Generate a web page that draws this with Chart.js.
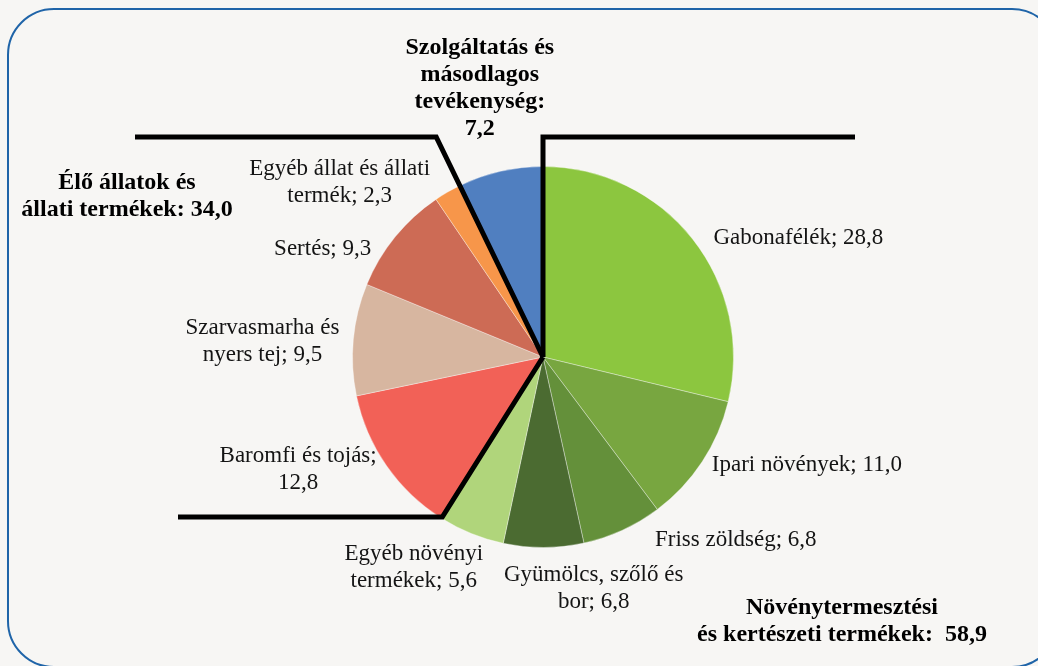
<!DOCTYPE html>
<html lang="hu">
<head>
<meta charset="utf-8">
<title>Mezőgazdasági kibocsátás szerkezete</title>
<script src="https://cdn.jsdelivr.net/npm/chart.js@4.4.1/dist/chart.umd.min.js"></script>
<style>
    html, body { margin: 0; padding: 0; background: #f7f6f4; }
    #wrap { width: 1038px; height: 666px; overflow: hidden; }
</style>
</head>
<body>
<div id="wrap"><canvas id="pieChart" width="1038" height="666"></canvas></div>
<script>
const categories = [
    "Gabonafélék",
    "Ipari növények",
    "Friss zöldség",
    "Gyümölcs, szőlő és bor",
    "Egyéb növényi termékek",
    "Baromfi és tojás",
    "Szarvasmarha és nyers tej",
    "Sertés",
    "Egyéb állat és állati termék",
    "Szolgáltatás és másodlagos tevékenység"
]
const shares = [28.8, 11.0, 6.8, 6.8, 5.6, 12.8, 9.5, 9.3, 2.3, 7.2]
const sliceColors = [
    "#8cc63f", "#78a640", "#64903a", "#4b6b31", "#b0d57b",
    "#f26157", "#d7b6a0", "#cd6b55", "#f7964a", "#507fc0"
]
const groupNames = ["Élő állatok és\nállati termékek", "Növénytermesztési\nés kertészeti termékek"]
const groupTotals = [34.0, 58.9]

const serif = "'Liberation Serif', 'DejaVu Serif', serif"

function formatHu(value) {
    return value.toFixed(1).replace(".", ",")
}

function wrapText(ctx, text, maxWidth) {
    const words = text.split(" ")
    const lines = []
    let current = ""
    words.forEach((word) => {
        const test = current ? current + " " + word : word
        if (current && ctx.measureText(test).width > maxWidth) {
            lines.push(current)
            current = word
        } else {
            current = test
        }
    })
    if (current) lines.push(current)
    return lines
}

function drawLines(ctx, lines, x, y, lineHeight) {
    lines.forEach((line, k) => {
        ctx.fillText(line, x, y + (k - (lines.length - 1) / 2) * lineHeight)
    })
}

const framePlugin = {
    id: "frame",
    beforeDraw(chart) {
        const ctx = chart.ctx
        ctx.save()
        ctx.fillStyle = "#f7f6f4"
        ctx.fillRect(0, 0, chart.width, chart.height)
        ctx.beginPath()
        ctx.roundRect(8, 9, 1050, 658, 46)
        ctx.strokeStyle = "#1f64a8"
        ctx.lineWidth = 2
        ctx.stroke()
        ctx.restore()
    }
}

// thick black separators between the three product groups
const groupLinesPlugin = {
    id: "groupLines",
    afterDatasetsDraw(chart, args, opts) {
        const arcs = chart.getDatasetMeta(0).data
        const cx = arcs[0].x
        const cy = arcs[0].y
        const ctx = chart.ctx
        ctx.save()
        ctx.strokeStyle = "#000"
        ctx.lineWidth = 5
        ctx.lineJoin = "miter"
        opts.lines.forEach((line) => {
            const angle = arcs[line.slice].startAngle
            const t = (line.y - cy) / Math.sin(angle)
            ctx.beginPath()
            ctx.moveTo(cx, cy)
            ctx.lineTo(cx + t * Math.cos(angle), line.y)
            ctx.lineTo(line.toX, line.y)
            ctx.stroke()
        })
        ctx.restore()
    }
}

const sliceLabelsPlugin = {
    id: "sliceLabels",
    afterDraw(chart, args, opts) {
        const arcs = chart.getDatasetMeta(0).data
        const ctx = chart.ctx
        ctx.save()
        ctx.textAlign = "center"
        ctx.textBaseline = "middle"
        arcs.forEach((arc, i) => {
            const item = opts.items[i]
            const mid = (arc.startAngle + arc.endAngle) / 2
            const r = arc.outerRadius + opts.gap
            const x = arc.x + r * Math.cos(mid) + item.dx
            const y = arc.y + r * Math.sin(mid) + item.dy
            ctx.font = item.bold ? opts.boldFont : opts.font
            ctx.fillStyle = item.bold ? "#000" : "#141414"
            const text = categories[i] + (item.sep || "; ") + formatHu(shares[i])
            drawLines(ctx, wrapText(ctx, text, item.wrap), x, y, opts.lineHeight)
        })

        ctx.font = opts.boldFont
        ctx.fillStyle = "#000"
        opts.groups.forEach((group, g) => {
            const lines = (groupNames[g] + group.sep + formatHu(groupTotals[g])).split("\n")
            drawLines(ctx, lines, group.x, group.y, opts.lineHeight)
        })
        ctx.restore()
    }
}

new Chart(document.getElementById("pieChart"), {
    type: "pie",
    data: {
        labels: categories,
        datasets: [{
            data: shares,
            backgroundColor: sliceColors,
            borderColor: "rgba(255, 255, 255, 0.35)",
            borderWidth: 1
        }]
    },
    options: {
        responsive: false,
        animation: false,
        devicePixelRatio: 1,
        layout: {
            padding: { top: 166, bottom: 118, left: 352, right: 304 }
        },
        plugins: {
            legend: { display: false },
            tooltip: { enabled: false },
            groupLines: {
                lines: [
                    { slice: 9, y: 137, toX: 135 },
                    { slice: 0, y: 137, toX: 855 },
                    { slice: 5, y: 517, toX: 178 }
                ]
            },
            sliceLabels: {
                font: "23px " + serif,
                boldFont: "bold 24px " + serif,
                lineHeight: 27,
                gap: 20,
                items: [
                    { dx: 90, dy: 11, wrap: 400 },
                    { dx: 88, dy: -8, wrap: 400 },
                    { dx: 105, dy: -8, wrap: 400 },
                    { dx: 50, dy: 21, wrap: 200 },
                    { dx: -50, dy: 15, wrap: 175 },
                    { dx: -72, dy: -8, wrap: 175 },
                    { dx: -71, dy: 4, wrap: 175 },
                    { dx: -57, dy: 25, wrap: 400 },
                    { dx: -98, dy: 8, wrap: 190 },
                    { dx: -16, dy: -64, wrap: 156, bold: true, sep: ": " }
                ],
                groups: [
                    { x: 127, y: 196, sep: ": " },
                    { x: 842, y: 621, sep: ":  " }
                ]
            }
        }
    },
    plugins: [framePlugin, groupLinesPlugin, sliceLabelsPlugin]
})
</script>
</body>
</html>
